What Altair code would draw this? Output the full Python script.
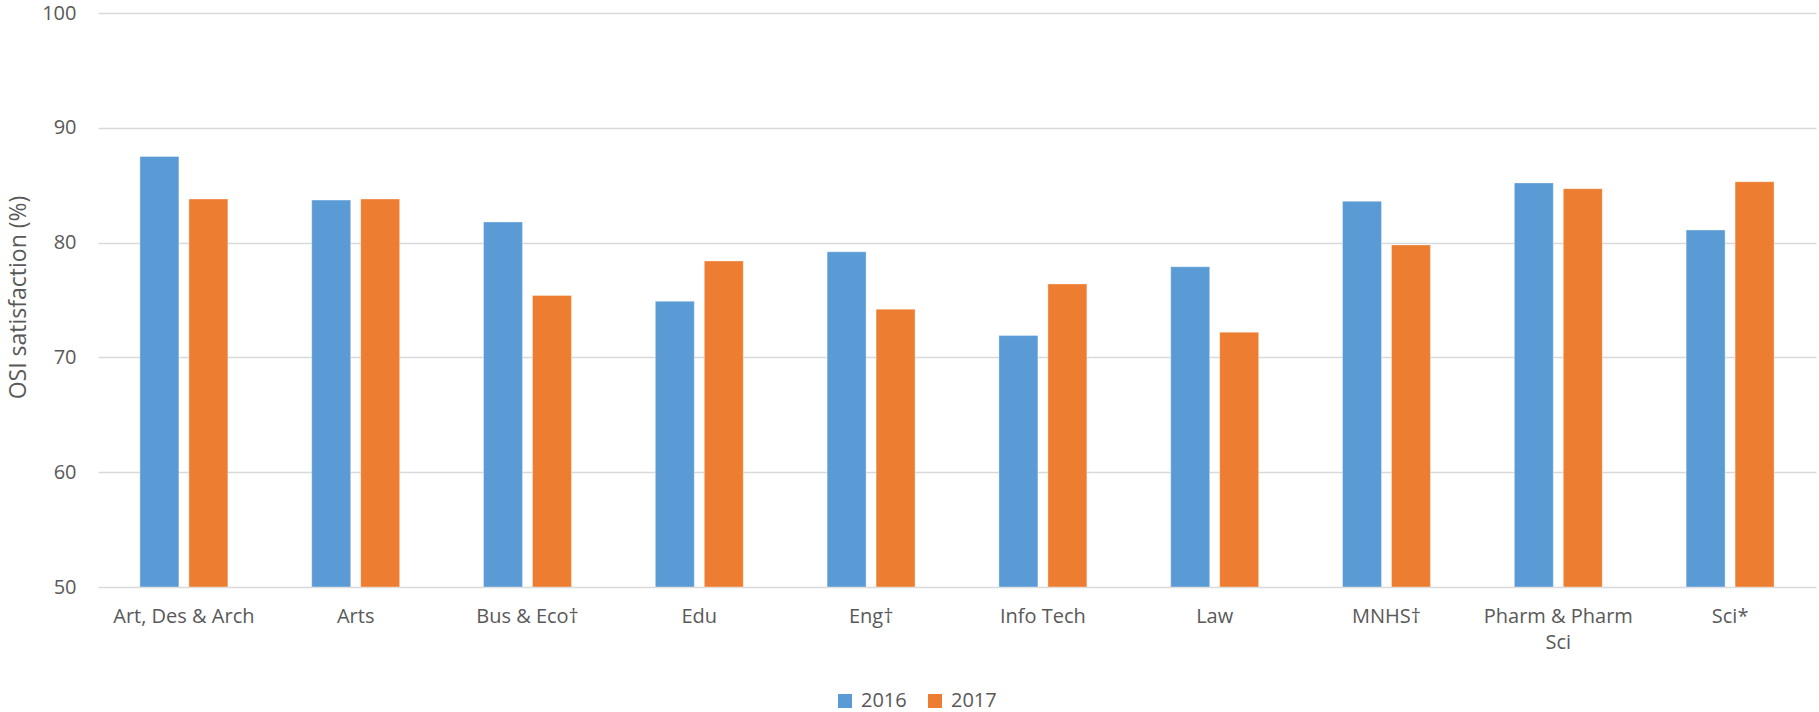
import altair as alt
import pandas as pd

categories = ["Art, Des & Arch", "Arts", "Bus & Eco\u2020", "Edu", "Eng\u2020",
              "Info Tech", "Law", "MNHS\u2020", "Pharm & Pharm Sci", "Sci*"]
values_2016 = [87.5, 83.7, 81.8, 74.9, 79.2, 71.9, 77.9, 83.6, 85.2, 81.1]
values_2017 = [83.8, 83.8, 75.4, 78.4, 74.2, 76.4, 72.2, 79.8, 84.7, 85.3]
years = ["2016", "2017"]
colors = ["#5b9bd5", "#ed7d31"]
y_ticks = [50, 60, 70, 80, 90, 100]
y_base = 50

rows = []
for c, a, b in zip(categories, values_2016, values_2017):
    rows.append({"Faculty": c, "Year": years[0], "Value": a, "Base": y_base})
    rows.append({"Faculty": c, "Year": years[1], "Value": b, "Base": y_base})
df = pd.DataFrame(rows)

FONT = "Open Sans"
TXT = "#595959"

chart = alt.Chart(df).mark_bar(stroke="white", strokeWidth=0.6, strokeOpacity=0.6).encode(
    x=alt.X("Faculty:N", sort=categories,
            scale=alt.Scale(paddingInner=0.488, paddingOuter=0.244),
            axis=alt.Axis(title=None, labelAngle=0, domain=False, ticks=False,
                          labelPadding=19, labelFontSize=20, labelFont=FONT,
                          labelColor=TXT, labelLimit=400, labelLineHeight=26,
                          labelExpr="datum.value == 'Pharm & Pharm Sci' ? ['Pharm & Pharm', 'Sci'] : datum.value")),
    xOffset=alt.XOffset("Year:N", sort=years,
                        scale=alt.Scale(paddingInner=0.204, paddingOuter=0)),
    y=alt.Y("Value:Q",
            scale=alt.Scale(domain=[50, 100], zero=False, nice=False),
            axis=alt.Axis(title="OSI satisfaction (%)", values=y_ticks,
                          domain=False, ticks=False, labelPadding=22,
                          labelFontSize=20, labelFont=FONT, labelColor=TXT,
                          gridColor="#d9d9d9", gridWidth=1.5,
                          titleFont=FONT, titleFontSize=23, titleFontWeight="normal",
                          titleColor=TXT, titleX=-80, titleY=284, titleAngle=270,
                          titleAlign="center", titleBaseline="middle")),
    y2=alt.Y2("Base:Q"),
    color=alt.Color("Year:N", sort=years,
                    scale=alt.Scale(domain=years, range=colors),
                    legend=alt.Legend(title=None, orient="none", direction="horizontal",
                                      legendX=737, legendY=678,
                                      symbolType="square", symbolSize=196,
                                      symbolStrokeWidth=0,
                                      labelFontSize=20, labelFont=FONT,
                                      labelColor=TXT, columnPadding=18,
                                      labelOffset=6, padding=0)),
).properties(
    width=1718, height=574,
    autosize=alt.AutoSizeParams(type="none"),
    padding={"left": 98, "top": 13, "right": 3, "bottom": 125},
).configure(background="white").configure_view(stroke=None)

chart.save("out.html", embed_options={"renderer": "svg", "actions": False})
